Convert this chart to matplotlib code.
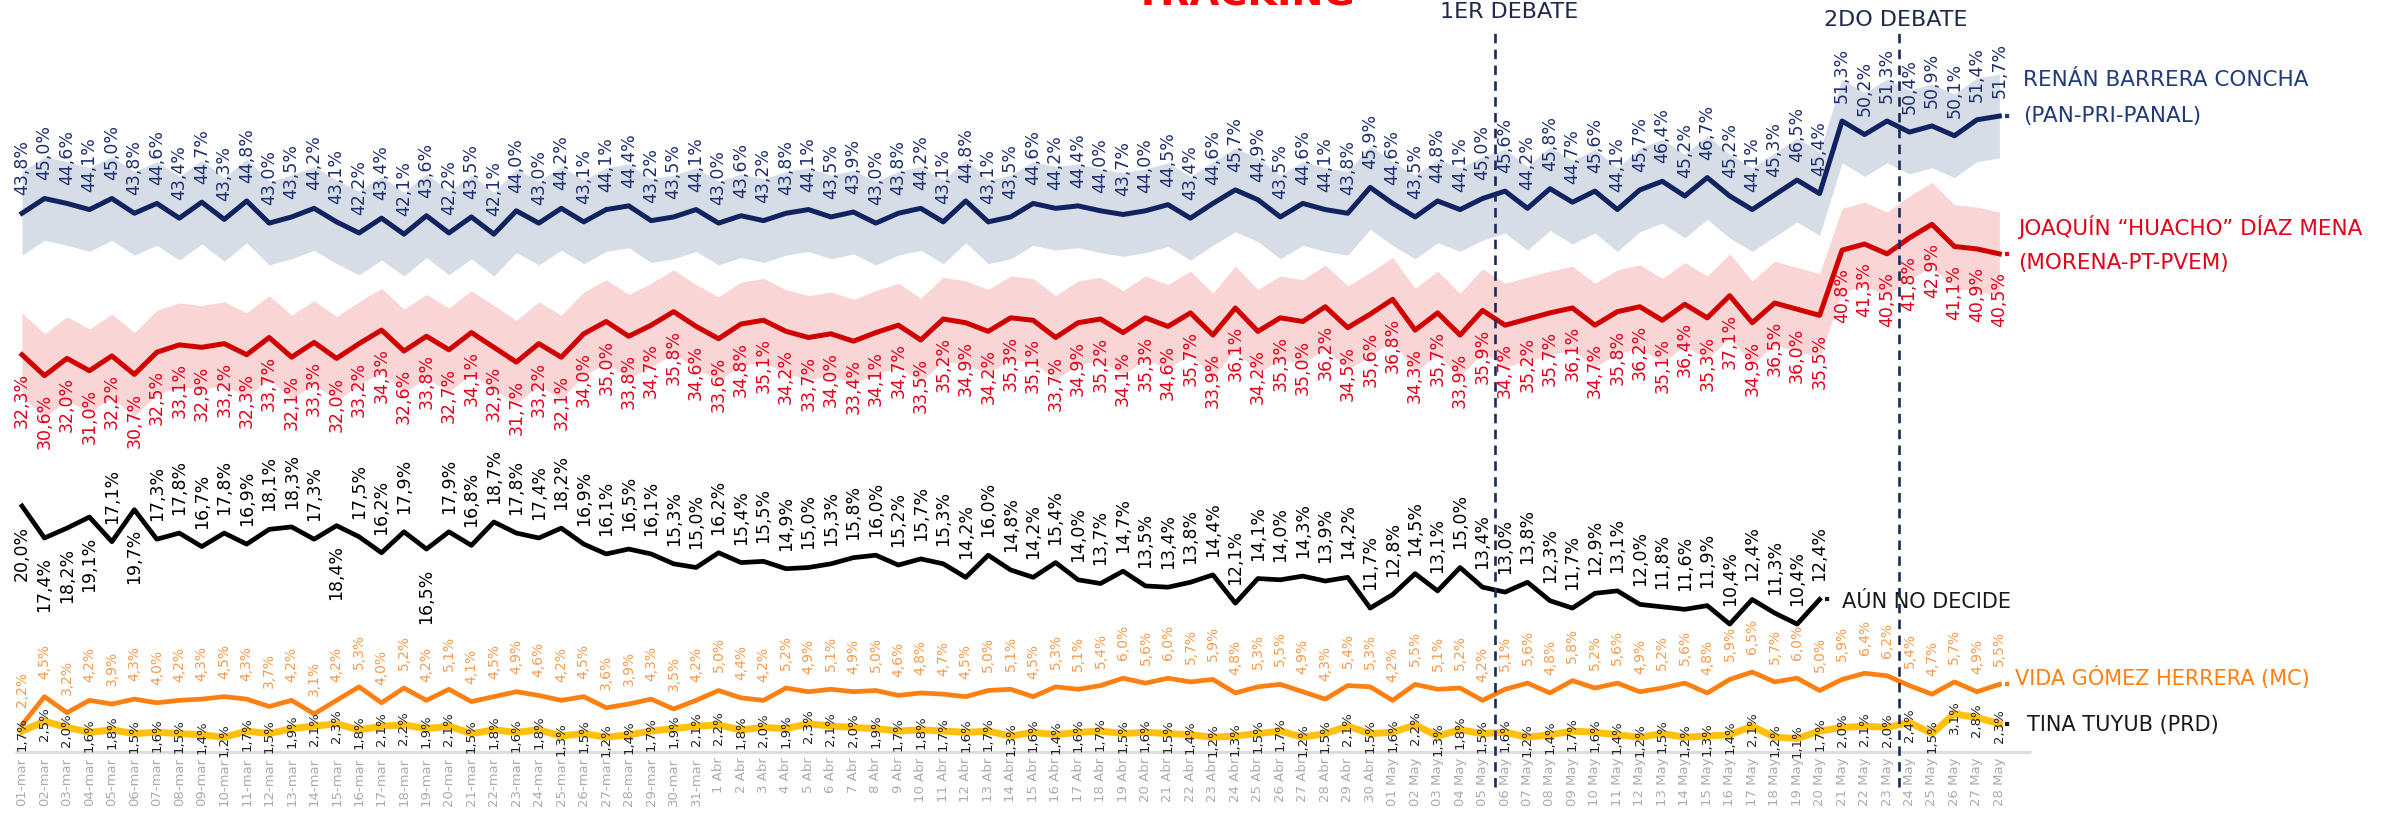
import matplotlib
matplotlib.use("Agg")
import matplotlib.pyplot as plt

# ---------------- data ----------------
dates_mar = [f"{d:02d}-mar" for d in range(1, 32)]
dates_abr = [f"{d} Abr" for d in range(1, 31)]
dates_may = [f"{d:02d} May" for d in range(1, 29)]
dates = dates_mar + dates_abr + dates_may

renan = [43.8, 45.0, 44.6, 44.1, 45.0, 43.8, 44.6, 43.4, 44.7, 43.3,
         44.8, 43.0, 43.5, 44.2, 43.1, 42.2, 43.4, 42.1, 43.6, 42.2,
         43.5, 42.1, 44.0, 43.0, 44.2, 43.1, 44.1, 44.4, 43.2, 43.5,
         44.1, 43.0, 43.6, 43.2, 43.8, 44.1, 43.5, 43.9, 43.0, 43.8,
         44.2, 43.1, 44.8, 43.1, 43.5, 44.6, 44.2, 44.4, 44.0, 43.7,
         44.0, 44.5, 43.4, 44.6, 45.7, 44.9, 43.5, 44.6, 44.1, 43.8,
         45.9, 44.6, 43.5, 44.8, 44.1, 45.0, 45.6, 44.2, 45.8, 44.7,
         45.6, 44.1, 45.7, 46.4, 45.2, 46.7, 45.2, 44.1, 45.3, 46.5,
         45.4, 51.3, 50.2, 51.3, 50.4, 50.9, 50.1, 51.4, 51.7]

joaquin = [32.3, 30.6, 32.0, 31.0, 32.2, 30.7, 32.5, 33.1, 32.9, 33.2,
           32.3, 33.7, 32.1, 33.3, 32.0, 33.2, 34.3, 32.6, 33.8, 32.7,
           34.1, 32.9, 31.7, 33.2, 32.1, 34.0, 35.0, 33.8, 34.7, 35.8,
           34.6, 33.6, 34.8, 35.1, 34.2, 33.7, 34.0, 33.4, 34.1, 34.7,
           33.5, 35.2, 34.9, 34.2, 35.3, 35.1, 33.7, 34.9, 35.2, 34.1,
           35.3, 34.6, 35.7, 33.9, 36.1, 34.2, 35.3, 35.0, 36.2, 34.5,
           35.6, 36.8, 34.3, 35.7, 33.9, 35.9, 34.7, 35.2, 35.7, 36.1,
           34.7, 35.8, 36.2, 35.1, 36.4, 35.3, 37.1, 34.9, 36.5, 36.0,
           35.5, 40.8, 41.3, 40.5, 41.8, 42.9, 41.1, 40.9, 40.5]

aun_no_decide = [20.0, 17.4, 18.2, 19.1, 17.1, 19.7, 17.3, 17.8, 16.7, 17.8,
                 16.9, 18.1, 18.3, 17.3, 18.4, 17.5, 16.2, 17.9, 16.5, 17.9,
                 16.8, 18.7, 17.8, 17.4, 18.2, 16.9, 16.1, 16.5, 16.1, 15.3,
                 15.0, 16.2, 15.4, 15.5, 14.9, 15.0, 15.3, 15.8, 16.0, 15.2,
                 15.7, 15.3, 14.2, 16.0, 14.8, 14.2, 15.4, 14.0, 13.7, 14.7,
                 13.5, 13.4, 13.8, 14.4, 12.1, 14.1, 14.0, 14.3, 13.9, 14.2,
                 11.7, 12.8, 14.5, 13.1, 15.0, 13.4, 13.0, 13.8, 12.3, 11.7,
                 12.9, 13.1, 12.0, 11.8, 11.6, 11.9, 10.4, 12.4, 11.3, 10.4,
                 12.4]

vida = [2.2, 4.5, 3.2, 4.2, 3.9, 4.3, 4.0, 4.2, 4.3, 4.5,
        4.3, 3.7, 4.2, 3.1, 4.2, 5.3, 4.0, 5.2, 4.2, 5.1,
        4.1, 4.5, 4.9, 4.6, 4.2, 4.5, 3.6, 3.9, 4.3, 3.5,
        4.2, 5.0, 4.4, 4.2, 5.2, 4.9, 5.1, 4.9, 5.0, 4.6,
        4.8, 4.7, 4.5, 5.0, 5.1, 4.5, 5.3, 5.1, 5.4, 6.0,
        5.6, 6.0, 5.7, 5.9, 4.8, 5.3, 5.5, 4.9, 4.3, 5.4,
        5.3, 4.2, 5.5, 5.1, 5.2, 4.2, 5.1, 5.6, 4.8, 5.8,
        5.2, 5.6, 4.9, 5.2, 5.6, 4.8, 5.9, 6.5, 5.7, 6.0,
        5.0, 5.9, 6.4, 6.2, 5.4, 4.7, 5.7, 4.9, 5.5]

tina = [1.7, 2.5, 2.0, 1.6, 1.8, 1.5, 1.6, 1.5, 1.4, 1.2,
        1.7, 1.5, 1.9, 2.1, 2.3, 1.8, 2.1, 2.2, 1.9, 2.1,
        1.5, 1.8, 1.6, 1.8, 1.3, 1.5, 1.2, 1.4, 1.7, 1.9,
        2.1, 2.2, 1.8, 2.0, 1.9, 2.3, 2.1, 2.0, 1.9, 1.7,
        1.8, 1.7, 1.6, 1.7, 1.3, 1.6, 1.4, 1.6, 1.7, 1.5,
        1.6, 1.5, 1.4, 1.2, 1.3, 1.5, 1.7, 1.2, 1.5, 2.1,
        1.5, 1.6, 2.2, 1.3, 1.8, 1.5, 1.6, 1.2, 1.4, 1.7,
        1.6, 1.4, 1.2, 1.5, 1.2, 1.3, 1.4, 2.1, 1.2, 1.1,
        1.7, 2.0, 2.1, 2.0, 2.4, 1.5, 3.1, 2.8, 2.3]

margin = 3.4  # shaded band half-width (points of %)
debates = ["1ER DEBATE", "2DO DEBATE"]
debate_dates = ["06 May", "24 May"]

# ---------------- style ----------------
NAVY = "#10225f"
NAVY_LBL = "#1e2f6e"
RED = "#d10000"
RED_LBL = "#e2001a"
ORANGE = "#ff7f11"
ORANGE_LBL = "#f89a4e"
YELLOW = "#ffc10e"
BLACK = "#000000"
GRAY_TICK = "#ababab"

plt.rcParams["font.family"] = ["DejaVu Sans"]

W, H = 2394, 814
fig = plt.figure(figsize=(W / 100, H / 100), dpi=100)
base_px = 752          # pixel row of 0 %
px_per_pct = 12.3
x0_px, step_px = 22, 22.47
ax = fig.add_axes([0, (H - base_px) / H, 1, base_px / H])
ax.set_xlim(-x0_px / step_px, (W - x0_px) / step_px)
ax.set_ylim(0, base_px / px_per_pct)
for s in ax.spines.values():
    s.set_visible(False)
ax.set_yticks([])

x_all = list(range(len(dates)))


def fmt(v):
    return f"{v:.1f}%".replace(".", ",")


# bands
ax.fill_between(x_all, [v - margin for v in renan], [v + margin for v in renan],
                color="#d6dde7", lw=0, zorder=1)
ax.fill_between(x_all, [v - margin for v in joaquin], [v + margin for v in joaquin],
                color="#f9d5d6", lw=0, zorder=1)

# baseline
ax.hlines(0, x_all[0] - 0.3, x_all[-1] + 1.4, color="#dddddd", lw=2.2,
          zorder=2, clip_on=False)

# lines
x_und = x_all[:len(aun_no_decide)]
ax.plot(x_all, renan, color=NAVY, lw=3.6, zorder=4)
ax.plot(x_all, joaquin, color=RED, lw=3.6, zorder=4)
ax.plot(x_und, aun_no_decide, color=BLACK, lw=3.4, zorder=4)
ax.plot(x_all, vida, color=ORANGE, lw=3.4, zorder=4)
ax.plot(x_all, tina, color=YELLOW, lw=5.0, zorder=3)

# value labels
for i, v in zip(x_all, renan):
    ax.annotate(fmt(v), (i, v), xytext=(0, 13), textcoords="offset points",
                rotation=90, ha="center", va="bottom", fontsize=12.5,
                color=NAVY_LBL, zorder=6)
for i, v in zip(x_all, joaquin):
    ax.annotate(fmt(v), (i, v), xytext=(0, -13), textcoords="offset points",
                rotation=90, ha="center", va="top", fontsize=12.5,
                color=RED_LBL, zorder=6)
below_idx = [0, 1, 2, 3, 5, 14, 18]
for i, v in zip(x_und, aun_no_decide):
    dy = -14 if i in below_idx else 13
    ax.annotate(fmt(v), (i, v), xytext=(0, dy), textcoords="offset points",
                rotation=90, ha="center", va="top" if dy < 0 else "bottom",
                fontsize=12.5, color=BLACK, zorder=6)
for i, v in zip(x_all, vida):
    ax.annotate(fmt(v), (i, v), xytext=(0, 13), textcoords="offset points",
                rotation=90, ha="center", va="bottom", fontsize=10,
                color=ORANGE_LBL, zorder=6)
for i, v in zip(x_all, tina):
    ax.annotate(fmt(v), (i, v), xytext=(0, -2), textcoords="offset points",
                rotation=90, ha="center", va="center", fontsize=9.5,
                color="#222222", zorder=6, annotation_clip=False)

# end connectors + series names
def end_label(series, xs, lines, color, dx, dy, size=15.5):
    xe, ye = xs[-1], series[-1]
    ax.plot([xe + 0.25, xe + 0.75], [ye, ye], color=color, lw=3,
            ls=(0, (1, 2.2)), zorder=5, clip_on=False)
    for txt, ddy in zip(lines, dy):
        ax.annotate(txt, (xe, ye), xytext=(dx, ddy), textcoords="offset points",
                    ha="left", va="center", fontsize=size, color=color, zorder=7,
                    annotation_clip=False)


end_label(renan, x_all, ["RENÁN BARRERA CONCHA", "(PAN-PRI-PANAL)"],
          "#213a7a", 17, [26, 0])
end_label(joaquin, x_all, ["JOAQUÍN “HUACHO” DÍAZ MENA", "(MORENA-PT-PVEM)"],
          RED_LBL, 13.5, [19, -6.5])
end_label(aun_no_decide, x_und, ["AÚN NO DECIDE"], "#1a1a1a", 16, [-2], size=15)
end_label(vida, x_all, ["VIDA GÓMEZ HERRERA (MC)"], ORANGE, 11, [5], size=15)
end_label(tina, x_all, ["TINA TUYUB (PRD)"], "#1a1a1a", 20, [-1], size=15)

# debates
trans = ax.get_xaxis_transform()
label_dx = [0.65, -0.15]
label_y = [1 - 12 / base_px, 1 - 20 / base_px]
for name, d, ldx, ly in zip(debates, debate_dates, label_dx, label_y):
    xd = dates.index(d) - 0.45
    ax.plot([xd, xd], [-35 / base_px, 1 - 32 / base_px], transform=trans,
            color="#1b2a5a", lw=1.9, ls=(0, (3.6, 2.4)), zorder=8, clip_on=False)
    ax.text(xd + ldx, ly, name, transform=trans, ha="center", va="center",
            fontsize=16, color="#1e2a4a", zorder=9)

# x ticks
ax.set_xticks(x_all)
ax.set_xticklabels(dates, rotation=90, fontsize=9.5, color=GRAY_TICK)
ax.tick_params(axis="x", length=0, pad=4)

# title (cut at top edge as in the reference)
fig.text(1245 / W, 1 - 5 / H, "TRACKING", ha="center", va="baseline",
         fontsize=27.5, fontweight="bold", color="#ff0000")

fig.savefig("out.png", dpi=100)
